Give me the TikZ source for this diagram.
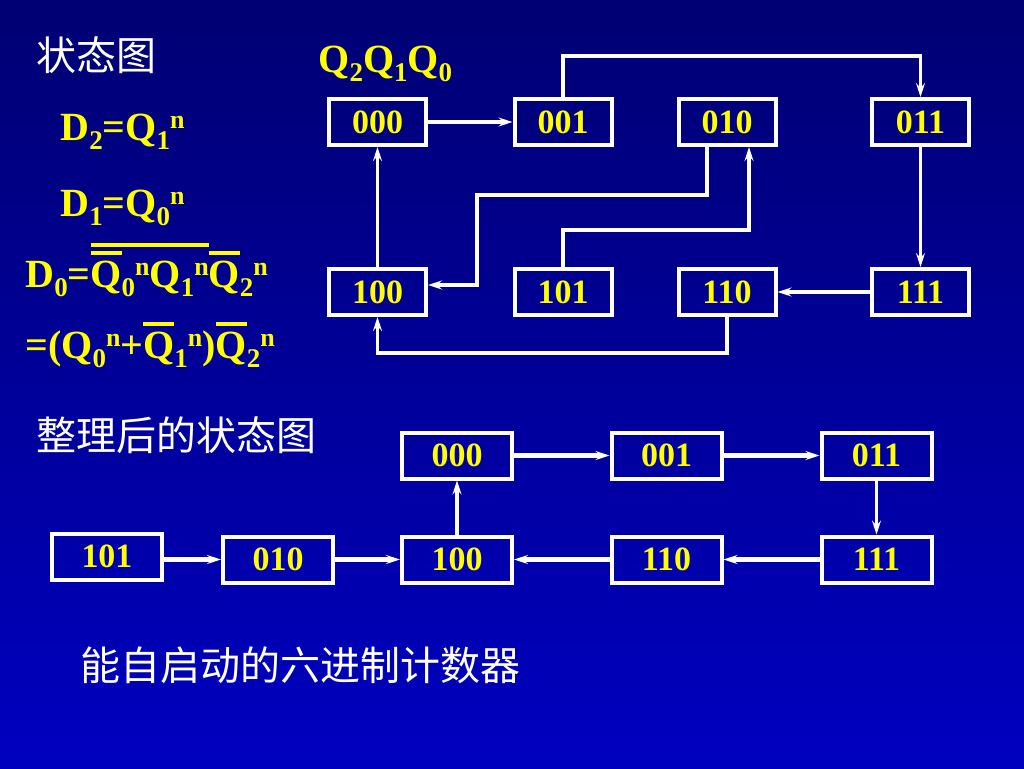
\documentclass[tikz,border=0pt]{standalone}
\usepackage{fontspec}
\setmainfont{Liberation Serif}
\newfontfamily\cjk{Noto Sans CJK SC}
\usepackage{tikz}
\usetikzlibrary{
    arrows.meta,
    positioning
}
\definecolor{slidetop}{RGB}{0,0,115}
\definecolor{slidebottom}{RGB}{0,0,192}
\definecolor{statetext}{RGB}{255,255,0}
\newcommand{\obar}[2][16pt]{\begingroup\setbox0\hbox{#2}\rlap{\rule[#1]{\wd0}{1.8pt}}\box0\endgroup}
\newcommand{\lo}[1]{\raisebox{-4.5pt}{\fontsize{13.5}{16}\selectfont #1}}
\newcommand{\hi}[1]{\raisebox{6pt}{\fontsize{13}{15}\selectfont #1}}

\begin{document}
\begin{tikzpicture}[x=0.5pt, y=-0.5pt,
    state/.style={draw=white, line width=2pt, minimum width=48.5pt, minimum height=23pt,
        inner sep=0pt, text=statetext, font=\fontsize{17}{20}\selectfont\bfseries},
    wide/.style={minimum width=55pt},
    link/.style={draw=white, line width=1.6pt, -{Stealth[length=7pt, width=4.5pt, inset=2.5pt]}},
    boldlink/.style={link, line width=2.4pt},
    eqn/.style={anchor=base west, inner sep=0pt, text=statetext, font=\fontsize{20}{24}\selectfont\bfseries},
    caption/.style={anchor=west, inner sep=0pt, text=white, font=\fontsize{20}{24}\selectfont\cjk}]
    % Background
    \shade[top color=slidetop, bottom color=slidebottom] (0,0) rectangle (1024,768);

    % Titles
    \node[caption] (title) at (36,55) {状态图};
    \node[caption] (subtitle) at (36,435) {整理后的状态图};
    \node[caption] (summary) at (80,665) {能自启动的六进制计数器};

    % Equations
    \node[eqn] (bits) at (318,72) {Q\lo{2}Q\lo{1}Q\lo{0}};
    \node[eqn] (dtwo) at (60,140) {D\lo{2}=Q\lo{1}\hi{n}};
    \node[eqn] (done) at (60,216) {D\lo{1}=Q\lo{0}\hi{n}};
    \node[eqn] (dzero) at (25,287)
        {D\lo{0}=\obar[20pt]{\obar{Q}\lo{0}\hi{n}Q\lo{1}\hi{n}}\obar{Q}\lo{2}\hi{n}};
    \node[eqn] (dzerob) at (25,358)
        {=(Q\lo{0}\hi{n}+\obar{Q}\lo{1}\hi{n})\obar{Q}\lo{2}\hi{n}};

    % Top diagram: states
    \node[state] (t000) at (377.5,122) {000};
    \node[state] (t001) at (563,122) {001};
    \node[state] (t010) at (727,122) {010};
    \node[state] (t011) at (920.5,122) {011};
    \node[state] (t100) at (377.5,292) {100};
    \node[state] (t101) at (563,292) {101};
    \node[state] (t110) at (727,292) {110};
    \node[state] (t111) at (920.5,292) {111};

    % Top diagram: transitions
    \draw[boldlink] (t000) -- (t001);
    \draw[link] (t001.north) -- ++(0,-41) -| (t011.north);
    \draw[link] (t011) -- (t111);
    \draw[boldlink] (t111) -- (t110);
    \draw[link] (t110.south) -- ++(0,36) -| (t100.south);
    \draw[link] (t100) -- (t000);
    \draw[link] ([xshift=-10pt]t010.south) |- (477,195) |- ([yshift=3.5pt]t100.east);
    \draw[link] (t101.north) -- ++(0,-37) -| ([xshift=11pt]t010.south);

    % Bottom diagram: states
    \node[state, wide] (b000) at (457,455.5) {000};
    \node[state, wide] (b001) at (666.5,455.5) {001};
    \node[state, wide] (b011) at (876.5,455.5) {011};
    \node[state, wide] (b101) at (107,556.5) {101};
    \node[state, wide] (b010) at (278,559.5) {010};
    \node[state, wide] (b100) at (457,559.5) {100};
    \node[state, wide] (b110) at (666.5,559.5) {110};
    \node[state, wide] (b111) at (876.5,559.5) {111};

    % Bottom diagram: transitions
    \draw[boldlink] (b000) -- (b001);
    \draw[boldlink] (b001) -- (b011);
    \draw[link] (b011) -- (b111);
    \draw[boldlink] (b111) -- (b110);
    \draw[boldlink] (b110) -- (b100);
    \draw[link] (b100) -- (b000);
    \draw[boldlink] (b101.east |- b010) -- (b010);
    \draw[boldlink] (b010) -- (b100);
\end{tikzpicture}
\end{document}
